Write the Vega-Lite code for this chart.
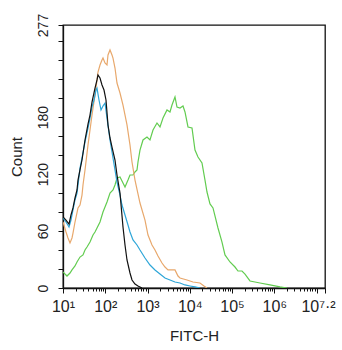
{
  "$schema": "https://vega.github.io/schema/vega-lite/v6.json",
  "width": 262,
  "height": 263,
  "autosize": {"type": "none"},
  "padding": {"left": 63, "top": 25, "right": 17, "bottom": 62},
  "background": "white",
  "config": {
    "font": "Liberation Sans",
    "view": {"stroke": "#111111", "strokeWidth": 1.3},
    "axis": {"domainColor": "#111111", "domainWidth": 1.3, "tickColor": "#111111", "labelColor": "#222222", "titleColor": "#222222", "titleFontWeight": "normal", "grid": false}
  },
  "data": {"values": [
    {"sample": "Antibody", "fitc": 10, "count": 16.9},
    {"sample": "Antibody", "fitc": 11.15, "count": 14.7},
    {"sample": "Antibody", "fitc": 12.43, "count": 12.6},
    {"sample": "Antibody", "fitc": 14.64, "count": 15.8},
    {"sample": "Antibody", "fitc": 16.33, "count": 19},
    {"sample": "Antibody", "fitc": 19.23, "count": 23.2},
    {"sample": "Antibody", "fitc": 21.45, "count": 27.4},
    {"sample": "Antibody", "fitc": 25.25, "count": 32.6},
    {"sample": "Antibody", "fitc": 29.74, "count": 34.8},
    {"sample": "Antibody", "fitc": 33.17, "count": 40},
    {"sample": "Antibody", "fitc": 36.99, "count": 43.2},
    {"sample": "Antibody", "fitc": 43.56, "count": 48.4},
    {"sample": "Antibody", "fitc": 51.29, "count": 55.8},
    {"sample": "Antibody", "fitc": 57.2, "count": 59},
    {"sample": "Antibody", "fitc": 63.78, "count": 63.2},
    {"sample": "Antibody", "fitc": 75.1, "count": 69.5},
    {"sample": "Antibody", "fitc": 88.4, "count": 80},
    {"sample": "Antibody", "fitc": 98.6, "count": 85.3},
    {"sample": "Antibody", "fitc": 110, "count": 90.6},
    {"sample": "Antibody", "fitc": 129.5, "count": 100},
    {"sample": "Antibody", "fitc": 152.5, "count": 103.2},
    {"sample": "Antibody", "fitc": 170, "count": 108.5},
    {"sample": "Antibody", "fitc": 189.6, "count": 115.9},
    {"sample": "Antibody", "fitc": 223.3, "count": 116.9},
    {"sample": "Antibody", "fitc": 262.9, "count": 110.6},
    {"sample": "Antibody", "fitc": 293.2, "count": 106.4},
    {"sample": "Antibody", "fitc": 345.2, "count": 113.7},
    {"sample": "Antibody", "fitc": 384.9, "count": 119},
    {"sample": "Antibody", "fitc": 453.4, "count": 119},
    {"sample": "Antibody", "fitc": 505.5, "count": 122.2},
    {"sample": "Antibody", "fitc": 563.6, "count": 124.3},
    {"sample": "Antibody", "fitc": 595.3, "count": 132.7},
    {"sample": "Antibody", "fitc": 663.7, "count": 145.3},
    {"sample": "Antibody", "fitc": 781.6, "count": 155.9},
    {"sample": "Antibody", "fitc": 971.9, "count": 159},
    {"sample": "Antibody", "fitc": 1144.6, "count": 155.9},
    {"sample": "Antibody", "fitc": 1348, "count": 166.4},
    {"sample": "Antibody", "fitc": 1676, "count": 173.8},
    {"sample": "Antibody", "fitc": 1974, "count": 169.6},
    {"sample": "Antibody", "fitc": 2325, "count": 179},
    {"sample": "Antibody", "fitc": 2891, "count": 187.5},
    {"sample": "Antibody", "fitc": 3404, "count": 185.4},
    {"sample": "Antibody", "fitc": 3795, "count": 192.7},
    {"sample": "Antibody", "fitc": 4470, "count": 201.2},
    {"sample": "Antibody", "fitc": 4985, "count": 190.6},
    {"sample": "Antibody", "fitc": 5869, "count": 189.6},
    {"sample": "Antibody", "fitc": 6912, "count": 191.7},
    {"sample": "Antibody", "fitc": 7708, "count": 185.4},
    {"sample": "Antibody", "fitc": 9077, "count": 169.6},
    {"sample": "Antibody", "fitc": 11287, "count": 168.5},
    {"sample": "Antibody", "fitc": 13292, "count": 145.3},
    {"sample": "Antibody", "fitc": 15650, "count": 138},
    {"sample": "Antibody", "fitc": 19460, "count": 131.7},
    {"sample": "Antibody", "fitc": 22920, "count": 113.7},
    {"sample": "Antibody", "fitc": 25560, "count": 101.1},
    {"sample": "Antibody", "fitc": 30100, "count": 88.5},
    {"sample": "Antibody", "fitc": 35440, "count": 84.3},
    {"sample": "Antibody", "fitc": 46530, "count": 63.2},
    {"sample": "Antibody", "fitc": 57860, "count": 48.4},
    {"sample": "Antibody", "fitc": 68140, "count": 34.8},
    {"sample": "Antibody", "fitc": 89480, "count": 27.4},
    {"sample": "Antibody", "fitc": 117500, "count": 22.1},
    {"sample": "Antibody", "fitc": 138400, "count": 17.9},
    {"sample": "Antibody", "fitc": 172100, "count": 17.9},
    {"sample": "Antibody", "fitc": 202700, "count": 14.7},
    {"sample": "Antibody", "fitc": 266100, "count": 7.4},
    {"sample": "Antibody", "fitc": 349400, "count": 6.3},
    {"sample": "Antibody", "fitc": 458800, "count": 5.3},
    {"sample": "Antibody", "fitc": 791000, "count": 3.2},
    {"sample": "Antibody", "fitc": 1364000, "count": 1.1},
    {"sample": "Antibody", "fitc": 1998000, "count": 0},

    {"sample": "Secondary only", "fitc": 10, "count": 69.5},
    {"sample": "Secondary only", "fitc": 11.78, "count": 59},
    {"sample": "Secondary only", "fitc": 13.13, "count": 52.7},
    {"sample": "Secondary only", "fitc": 14.64, "count": 47.4},
    {"sample": "Secondary only", "fitc": 16.33, "count": 52.7},
    {"sample": "Secondary only", "fitc": 17.24, "count": 57.9},
    {"sample": "Secondary only", "fitc": 19.23, "count": 69.5},
    {"sample": "Secondary only", "fitc": 22.65, "count": 84.3},
    {"sample": "Secondary only", "fitc": 25.25, "count": 87.4},
    {"sample": "Secondary only", "fitc": 28.16, "count": 97.9},
    {"sample": "Secondary only", "fitc": 29.74, "count": 108.5},
    {"sample": "Secondary only", "fitc": 33.17, "count": 124.3},
    {"sample": "Secondary only", "fitc": 39.05, "count": 150.6},
    {"sample": "Secondary only", "fitc": 43.56, "count": 166.4},
    {"sample": "Secondary only", "fitc": 48.57, "count": 182.2},
    {"sample": "Secondary only", "fitc": 57.2, "count": 203.3},
    {"sample": "Secondary only", "fitc": 63.78, "count": 219.1},
    {"sample": "Secondary only", "fitc": 67.35, "count": 227.5},
    {"sample": "Secondary only", "fitc": 75.1, "count": 234.9},
    {"sample": "Secondary only", "fitc": 83.74, "count": 240.1},
    {"sample": "Secondary only", "fitc": 88.4, "count": 242.2},
    {"sample": "Secondary only", "fitc": 98.6, "count": 237},
    {"sample": "Secondary only", "fitc": 110, "count": 234.9},
    {"sample": "Secondary only", "fitc": 116.1, "count": 245.4},
    {"sample": "Secondary only", "fitc": 129.5, "count": 250.7},
    {"sample": "Secondary only", "fitc": 144.4, "count": 245.4},
    {"sample": "Secondary only", "fitc": 152.5, "count": 242.2},
    {"sample": "Secondary only", "fitc": 170, "count": 231.7},
    {"sample": "Secondary only", "fitc": 189.6, "count": 215.9},
    {"sample": "Secondary only", "fitc": 223.3, "count": 205.4},
    {"sample": "Secondary only", "fitc": 262.9, "count": 192.7},
    {"sample": "Secondary only", "fitc": 326.9, "count": 171.7},
    {"sample": "Secondary only", "fitc": 384.9, "count": 150.6},
    {"sample": "Secondary only", "fitc": 429.4, "count": 132.7},
    {"sample": "Secondary only", "fitc": 505.5, "count": 113.7},
    {"sample": "Secondary only", "fitc": 663.7, "count": 89.5},
    {"sample": "Secondary only", "fitc": 871.6, "count": 71.6},
    {"sample": "Secondary only", "fitc": 1026.6, "count": 55.8},
    {"sample": "Secondary only", "fitc": 1276.3, "count": 45.3},
    {"sample": "Secondary only", "fitc": 1503, "count": 40},
    {"sample": "Secondary only", "fitc": 1770, "count": 33.7},
    {"sample": "Secondary only", "fitc": 2201, "count": 26.3},
    {"sample": "Secondary only", "fitc": 2592, "count": 22.1},
    {"sample": "Secondary only", "fitc": 3053, "count": 19},
    {"sample": "Secondary only", "fitc": 3795, "count": 19},
    {"sample": "Secondary only", "fitc": 4470, "count": 19},
    {"sample": "Secondary only", "fitc": 5263, "count": 12.6},
    {"sample": "Secondary only", "fitc": 5869, "count": 10.5},
    {"sample": "Secondary only", "fitc": 8595, "count": 8.4},
    {"sample": "Secondary only", "fitc": 11919, "count": 6.3},
    {"sample": "Secondary only", "fitc": 17449, "count": 5.3},
    {"sample": "Secondary only", "fitc": 21700, "count": 2.1},
    {"sample": "Secondary only", "fitc": 25560, "count": 0},

    {"sample": "Isotype", "fitc": 10, "count": 73.7},
    {"sample": "Isotype", "fitc": 11.78, "count": 69.5},
    {"sample": "Isotype", "fitc": 13.87, "count": 64.2},
    {"sample": "Isotype", "fitc": 15.46, "count": 71.6},
    {"sample": "Isotype", "fitc": 17.24, "count": 82.2},
    {"sample": "Isotype", "fitc": 19.23, "count": 92.7},
    {"sample": "Isotype", "fitc": 21.45, "count": 100},
    {"sample": "Isotype", "fitc": 22.65, "count": 108.5},
    {"sample": "Isotype", "fitc": 25.25, "count": 126.4},
    {"sample": "Isotype", "fitc": 28.16, "count": 136.9},
    {"sample": "Isotype", "fitc": 33.17, "count": 153.8},
    {"sample": "Isotype", "fitc": 39.05, "count": 168.5},
    {"sample": "Isotype", "fitc": 43.56, "count": 179},
    {"sample": "Isotype", "fitc": 48.57, "count": 190.6},
    {"sample": "Isotype", "fitc": 54.16, "count": 198},
    {"sample": "Isotype", "fitc": 60.4, "count": 208.5},
    {"sample": "Isotype", "fitc": 63.78, "count": 210.6},
    {"sample": "Isotype", "fitc": 71.1, "count": 198},
    {"sample": "Isotype", "fitc": 79.3, "count": 187.5},
    {"sample": "Isotype", "fitc": 88.4, "count": 191.7},
    {"sample": "Isotype", "fitc": 98.6, "count": 194.8},
    {"sample": "Isotype", "fitc": 110, "count": 179},
    {"sample": "Isotype", "fitc": 129.5, "count": 155.9},
    {"sample": "Isotype", "fitc": 152.5, "count": 136.9},
    {"sample": "Isotype", "fitc": 170, "count": 124.3},
    {"sample": "Isotype", "fitc": 189.6, "count": 111.6},
    {"sample": "Isotype", "fitc": 223.3, "count": 97.9},
    {"sample": "Isotype", "fitc": 249, "count": 87.4},
    {"sample": "Isotype", "fitc": 293.2, "count": 76.9},
    {"sample": "Isotype", "fitc": 345.2, "count": 66.4},
    {"sample": "Isotype", "fitc": 384.9, "count": 59},
    {"sample": "Isotype", "fitc": 453.4, "count": 50.6},
    {"sample": "Isotype", "fitc": 563.6, "count": 45.3},
    {"sample": "Isotype", "fitc": 663.7, "count": 40},
    {"sample": "Isotype", "fitc": 871.6, "count": 31.6},
    {"sample": "Isotype", "fitc": 1144.6, "count": 24.2},
    {"sample": "Isotype", "fitc": 1503, "count": 19},
    {"sample": "Isotype", "fitc": 1974, "count": 14.7},
    {"sample": "Isotype", "fitc": 2592, "count": 10.5},
    {"sample": "Isotype", "fitc": 3404, "count": 8.4},
    {"sample": "Isotype", "fitc": 4470, "count": 6.3},
    {"sample": "Isotype", "fitc": 5869, "count": 5.3},
    {"sample": "Isotype", "fitc": 7708, "count": 3.2},
    {"sample": "Isotype", "fitc": 10120, "count": 2.1},
    {"sample": "Isotype", "fitc": 13292, "count": 1.1},
    {"sample": "Isotype", "fitc": 17449, "count": 0},

    {"sample": "Unstained", "fitc": 10, "count": 74.8},
    {"sample": "Unstained", "fitc": 11.78, "count": 71.6},
    {"sample": "Unstained", "fitc": 13.87, "count": 67.4},
    {"sample": "Unstained", "fitc": 15.46, "count": 76.9},
    {"sample": "Unstained", "fitc": 17.24, "count": 84.3},
    {"sample": "Unstained", "fitc": 19.23, "count": 94.8},
    {"sample": "Unstained", "fitc": 21.45, "count": 103.2},
    {"sample": "Unstained", "fitc": 22.65, "count": 113.7},
    {"sample": "Unstained", "fitc": 25.25, "count": 124.3},
    {"sample": "Unstained", "fitc": 28.16, "count": 134.8},
    {"sample": "Unstained", "fitc": 33.17, "count": 155.9},
    {"sample": "Unstained", "fitc": 39.05, "count": 172.7},
    {"sample": "Unstained", "fitc": 43.56, "count": 182.2},
    {"sample": "Unstained", "fitc": 48.57, "count": 195.9},
    {"sample": "Unstained", "fitc": 57.2, "count": 210.6},
    {"sample": "Unstained", "fitc": 63.78, "count": 219.1},
    {"sample": "Unstained", "fitc": 67.35, "count": 224.3},
    {"sample": "Unstained", "fitc": 75.1, "count": 221.2},
    {"sample": "Unstained", "fitc": 83.74, "count": 213.8},
    {"sample": "Unstained", "fitc": 93.4, "count": 208.5},
    {"sample": "Unstained", "fitc": 104.1, "count": 198},
    {"sample": "Unstained", "fitc": 116.1, "count": 171.7},
    {"sample": "Unstained", "fitc": 129.5, "count": 158},
    {"sample": "Unstained", "fitc": 144.4, "count": 148.5},
    {"sample": "Unstained", "fitc": 170, "count": 134.8},
    {"sample": "Unstained", "fitc": 189.6, "count": 119},
    {"sample": "Unstained", "fitc": 223.3, "count": 100},
    {"sample": "Unstained", "fitc": 262.9, "count": 64.2},
    {"sample": "Unstained", "fitc": 293.2, "count": 45.3},
    {"sample": "Unstained", "fitc": 326.9, "count": 29.5},
    {"sample": "Unstained", "fitc": 384.9, "count": 15.8},
    {"sample": "Unstained", "fitc": 429.4, "count": 8.4},
    {"sample": "Unstained", "fitc": 505.5, "count": 4.2},
    {"sample": "Unstained", "fitc": 595.3, "count": 2.1},
    {"sample": "Unstained", "fitc": 740.3, "count": 0}
  ]},
  "mark": {"type": "line", "strokeWidth": 1.2, "clip": true},
  "encoding": {
    "x": {
      "field": "fitc",
      "type": "quantitative",
      "scale": {"type": "log", "domain": [10, 15848932], "nice": false},
      "axis": {
        "title": "FITC-H",
        "titleFontSize": 15,
        "titlePadding": 14,
        "labelFontSize": 16,
        "labelPadding": 5,
        "labelOverlap": false,
        "labelFlush": false,
        "values": [10, 20, 30, 40, 50, 60, 70, 80, 90, 100, 200, 300, 400, 500, 600, 700, 800, 900, 1000, 2000, 3000, 4000, 5000, 6000, 7000, 8000, 9000, 10000, 20000, 30000, 40000, 50000, 60000, 70000, 80000, 90000, 100000, 200000, 300000, 400000, 500000, 600000, 700000, 800000, 900000, 1000000, 2000000, 3000000, 4000000, 5000000, 6000000, 7000000, 8000000, 9000000, 10000000, 15848932],
        "labelExpr": "datum.value == 10 ? '10¹' : datum.value == 100 ? '10²' : datum.value == 1000 ? '10³' : datum.value == 10000 ? '10⁴' : datum.value == 100000 ? '10⁵' : datum.value == 1000000 ? '10⁶' : datum.value > 15000000 ? '10⁷·²' : ''",
        "tickSize": {"condition": {"test": "indexof([10, 100, 1000, 10000, 100000, 1000000, 10000000, 15848932], datum.value) >= 0", "value": 5}, "value": 3},
        "labelOffset": {"condition": {"test": "datum.value > 15000000", "value": -7}, "value": 0}
      }
    },
    "y": {
      "field": "count",
      "type": "quantitative",
      "scale": {"domain": [0, 277], "nice": false},
      "axis": {
        "title": "Count",
        "titleFontSize": 15,
        "titlePadding": 12,
        "labelFontSize": 14,
        "labelPadding": 8,
        "labelAngle": 270,
        "labelAlign": "center",
        "labelBaseline": "bottom",
        "labelOverlap": false,
        "labelFlush": false,
        "tickSize": 5,
        "values": [0, 20, 40, 60, 80, 100, 120, 140, 160, 180, 200, 220, 240, 260, 277],
        "labelExpr": "indexof([0, 60, 120, 180, 277], datum.value) >= 0 ? datum.label : ''"
      }
    },
    "color": {
      "field": "sample",
      "type": "nominal",
      "scale": {"domain": ["Antibody", "Secondary only", "Isotype", "Unstained"], "range": ["#62cc50", "#e8a86c", "#2ea6d8", "#111111"]},
      "legend": null
    }
  }
}
